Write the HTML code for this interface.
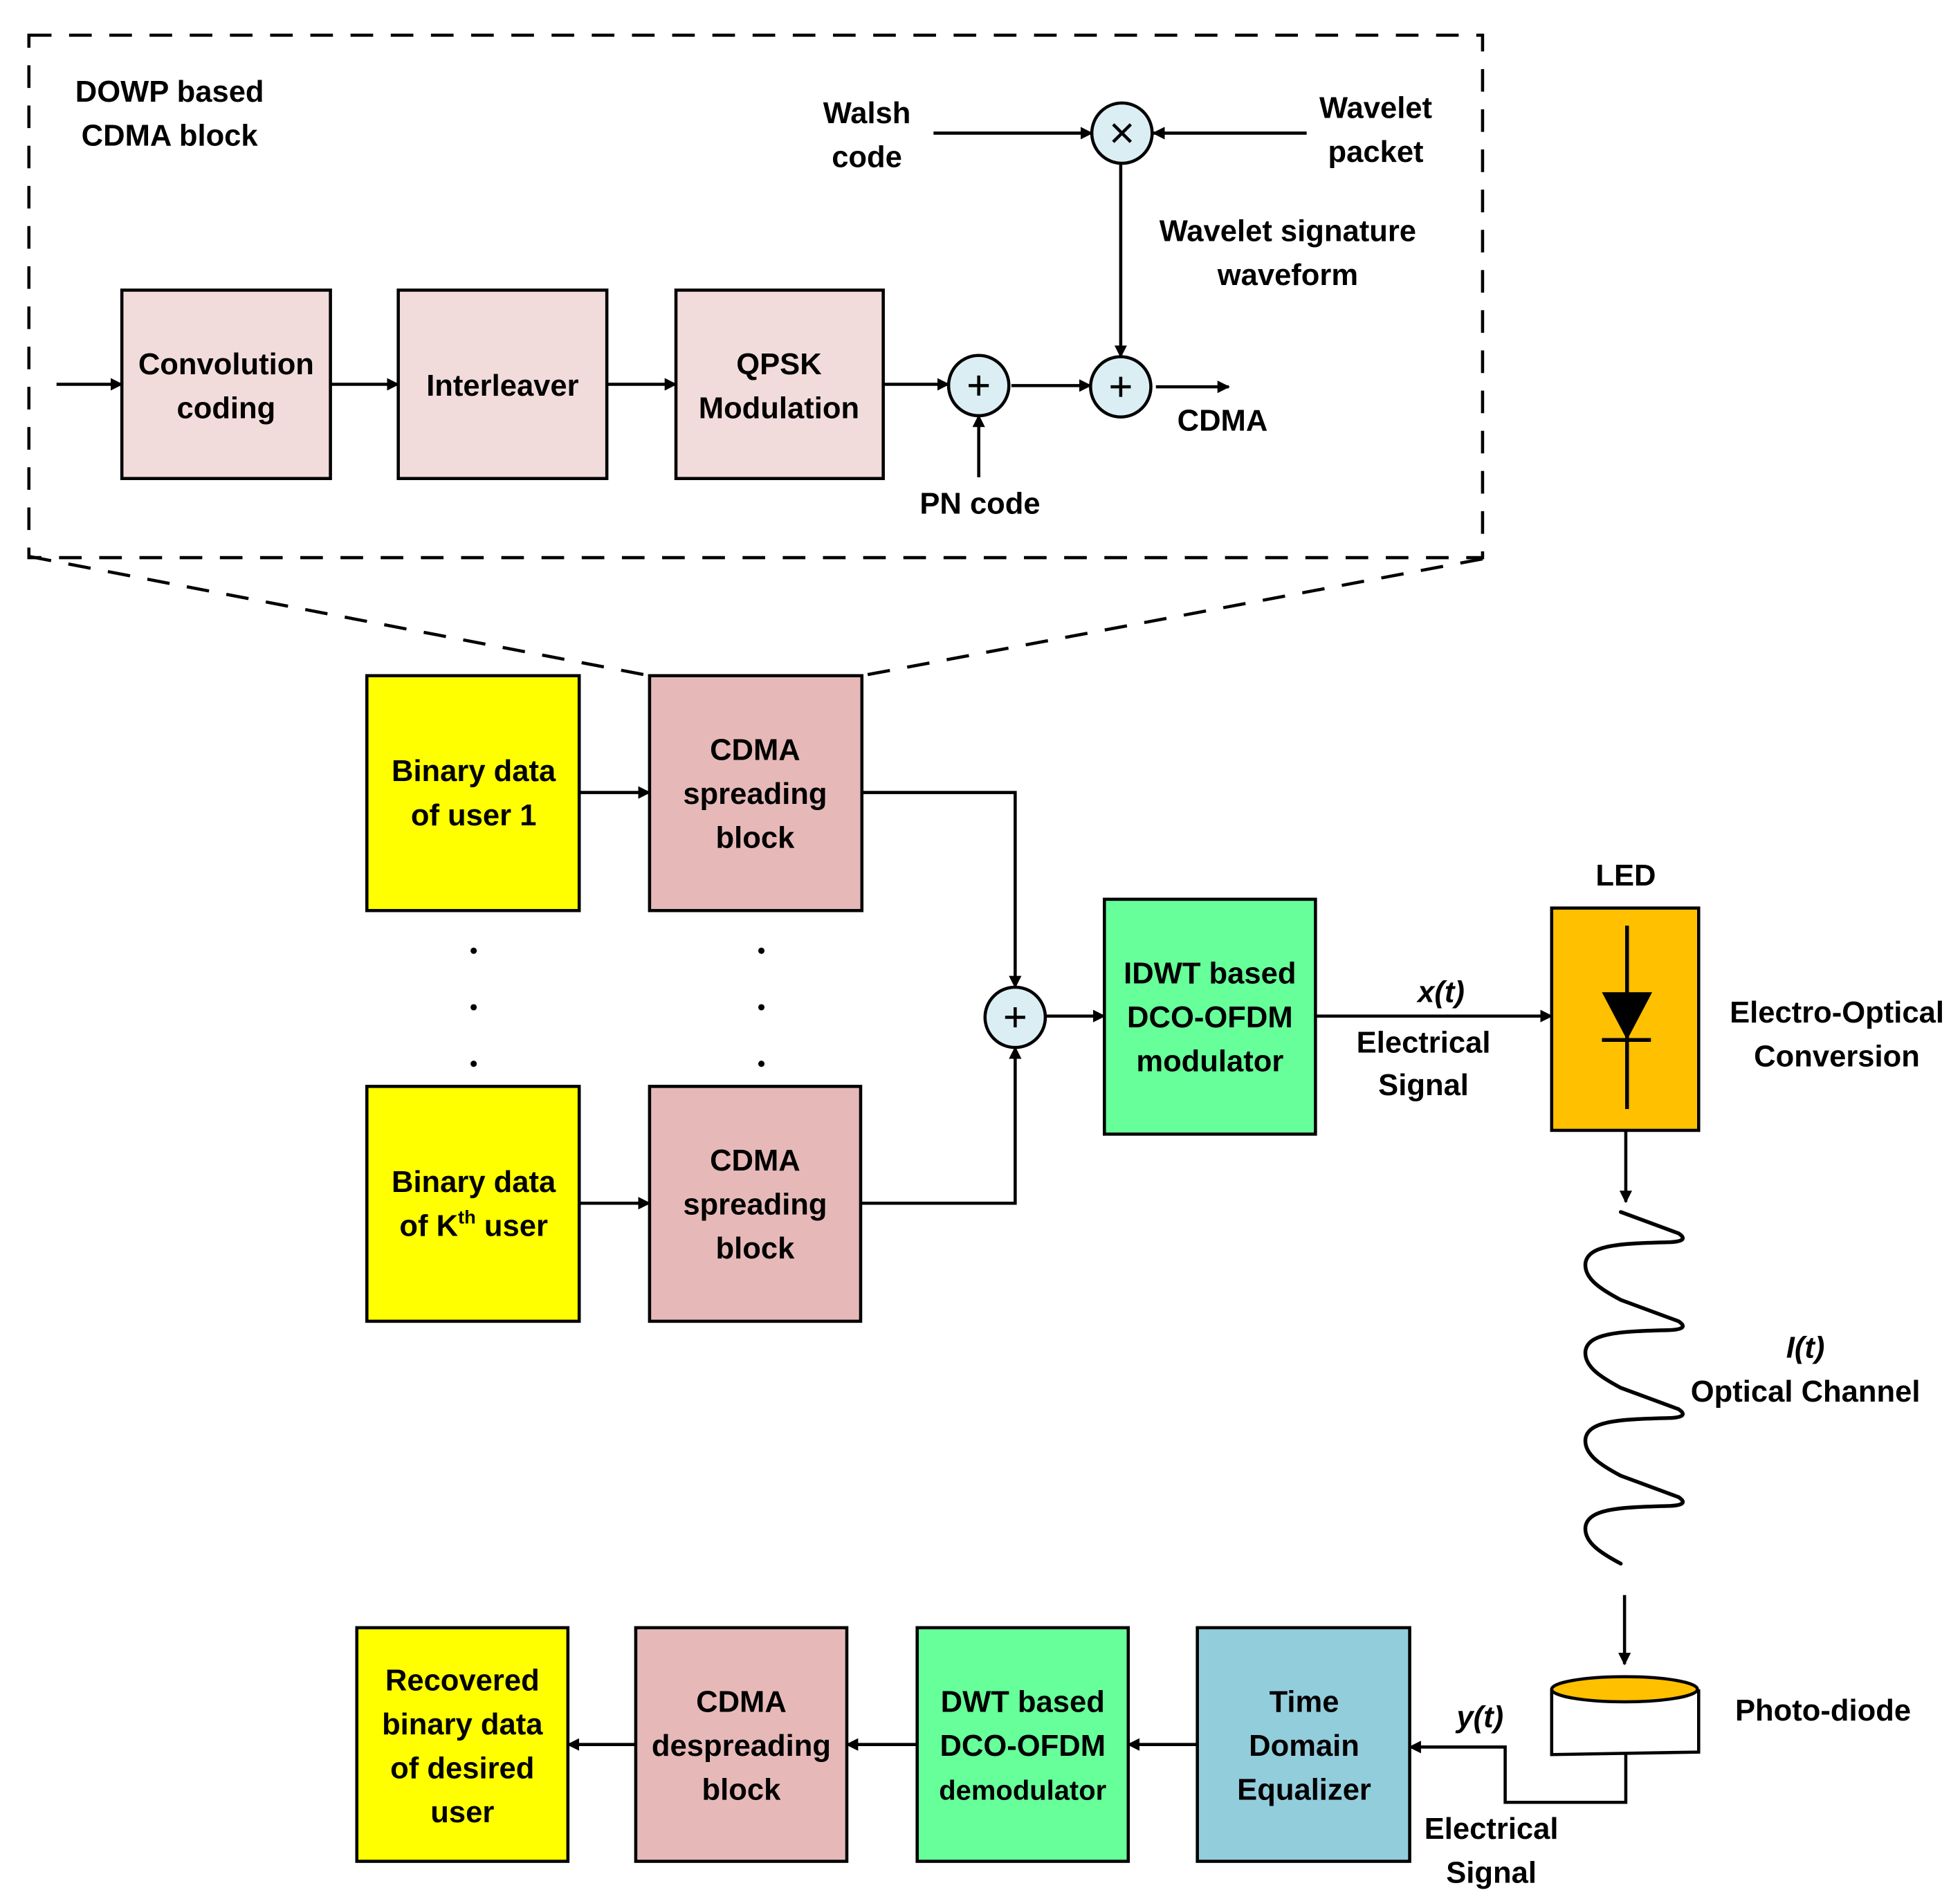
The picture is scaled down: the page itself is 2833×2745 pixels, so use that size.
<!DOCTYPE html>
<html><head><meta charset="utf-8"><style>html,body{margin:0;padding:0;background:#fff}svg{display:block}</style></head>
<body>
<svg width="2833" height="2745" viewBox="0 0 1560 1512" preserveAspectRatio="none" xmlns="http://www.w3.org/2000/svg">
<defs>
<marker id="a" markerWidth="10" markerHeight="10" refX="9" refY="5" orient="auto" markerUnits="userSpaceOnUse"><path d="M0,0 L10,5 L0,10 z" fill="#000"/></marker>
<marker id="b" markerWidth="14" markerHeight="14" refX="13" refY="7" orient="auto" markerUnits="userSpaceOnUse"><path d="M0,0 L14,7 L0,14 z" fill="#000"/></marker>
</defs>
<g font-family="'Liberation Sans',sans-serif" font-weight="bold" font-size="24" text-anchor="middle" fill="#000">
<!-- dashed box -->
<g stroke="#000" stroke-width="2.5" fill="none" stroke-dasharray="18,14">
<rect x="23" y="28" width="1157" height="416"/>
<line x1="23" y1="443" x2="517" y2="538"/>
<line x1="1180" y1="445" x2="686" y2="538"/>
</g>
<text x="135" y="81">DOWP based</text>
<text x="135" y="116">CDMA block</text>
<g stroke="#000" stroke-width="2.5" fill="#f2dcdb">
<rect x="97" y="231" width="166" height="150"/>
<rect x="317" y="231" width="166" height="150"/>
<rect x="538" y="231" width="165" height="150"/>
</g>
<text x="180" y="298">Convolution</text><text x="180" y="333">coding</text>
<text x="400" y="315">Interleaver</text>
<text x="620" y="298">QPSK</text><text x="620" y="333">Modulation</text>
<g stroke="#000" stroke-width="2.5" fill="none" marker-end="url(#a)">
<line x1="45" y1="306" x2="97" y2="306"/>
<line x1="263" y1="306" x2="317" y2="306"/>
<line x1="483" y1="306" x2="538" y2="306"/>
<line x1="703" y1="306" x2="755" y2="306"/>
<line x1="805" y1="307" x2="868" y2="307"/>
<line x1="779" y1="380" x2="779" y2="331"/>
<line x1="743" y1="106" x2="869" y2="106"/>
<line x1="1040" y1="106" x2="918" y2="106"/>
<line x1="892" y1="130" x2="892" y2="284"/>
<line x1="920" y1="308" x2="978" y2="308"/>
</g>
<g stroke="#000" stroke-width="2.5" fill="#dbeef4">
<circle cx="779" cy="307" r="24"/>
<circle cx="892" cy="308" r="24"/>
<circle cx="893" cy="106" r="24"/>
</g>
<g stroke="#000" stroke-width="2.5">
<line x1="771" y1="307" x2="787" y2="307"/><line x1="779" y1="299" x2="779" y2="315"/>
<line x1="884" y1="308" x2="900" y2="308"/><line x1="892" y1="300" x2="892" y2="316"/>
<line x1="886" y1="99" x2="900" y2="113"/><line x1="900" y1="99" x2="886" y2="113"/>
</g>
<text x="690" y="98">Walsh</text><text x="690" y="133">code</text>
<text x="1095" y="94">Wavelet</text><text x="1095" y="129">packet</text>
<text x="1025" y="192">Wavelet signature</text><text x="1025" y="227">waveform</text>
<text x="973" y="343">CDMA</text>
<text x="780" y="409">PN code</text>
<!-- middle -->
<g stroke="#000" stroke-width="2.5">
<rect x="292" y="538" width="169" height="187" fill="#ffff00"/>
<rect x="517" y="538" width="169" height="187" fill="#e6b9b8"/>
<rect x="292" y="865" width="169" height="187" fill="#ffff00"/>
<rect x="517" y="865" width="168" height="187" fill="#e6b9b8"/>
<rect x="879" y="716" width="168" height="187" fill="#66ff99"/>
<rect x="1235" y="723" width="117" height="177" fill="#ffc000"/>
<rect x="953" y="1296" width="169" height="186" fill="#92cddc"/>
<rect x="730" y="1296" width="168" height="186" fill="#66ff99"/>
<rect x="506" y="1296" width="168" height="186" fill="#e6b9b8"/>
<rect x="284" y="1296" width="168" height="186" fill="#ffff00"/>
</g>
<g fill="#000"><circle cx="377" cy="757" r="2.5"/><circle cx="377" cy="802" r="2.5"/><circle cx="377" cy="847" r="2.5"/>
<circle cx="606" cy="757" r="2.5"/><circle cx="606" cy="802" r="2.5"/><circle cx="606" cy="847" r="2.5"/></g>
<text x="377" y="622">Binary data</text><text x="377" y="657">of user 1</text>
<text x="377" y="949">Binary data</text><text x="377" y="984">of K<tspan font-size="15" dy="-10">th</tspan><tspan dy="10"> user</tspan></text>
<text x="601" y="605">CDMA</text><text x="601" y="640">spreading</text><text x="601" y="675">block</text>
<text x="601" y="932">CDMA</text><text x="601" y="967">spreading</text><text x="601" y="1002">block</text>
<text x="963" y="783">IDWT based</text><text x="963" y="818">DCO-OFDM</text><text x="963" y="853">modulator</text>
<g stroke="#000" stroke-width="2.5" fill="none" marker-end="url(#a)">
<line x1="461" y1="631" x2="517" y2="631"/>
<line x1="461" y1="958" x2="517" y2="958"/>
<polyline points="686,631 808,631 808,786"/>
<polyline points="686,958 808,958 808,834"/>
<line x1="832" y1="809" x2="879" y2="809"/>
<line x1="1047" y1="809" x2="1235" y2="809"/>
<line x1="1294" y1="900" x2="1294" y2="957"/>
<line x1="1293" y1="1270" x2="1293" y2="1325"/>
<polyline points="1294,1397 1294,1435 1198,1435 1198,1391 1122,1391"/>
<line x1="953" y1="1389" x2="898" y2="1389"/>
<line x1="730" y1="1389" x2="674" y2="1389"/>
<line x1="506" y1="1389" x2="452" y2="1389"/>
</g>
<circle cx="808" cy="810" r="24" fill="#dbeef4" stroke="#000" stroke-width="2.5"/>
<g stroke="#000" stroke-width="2.5"><line x1="800" y1="810" x2="816" y2="810"/><line x1="808" y1="802" x2="808" y2="818"/></g>
<text x="1147" y="798" font-style="italic">x(t)</text>
<text x="1133" y="838">Electrical</text><text x="1133" y="872">Signal</text>
<text x="1294" y="705">LED</text>
<g stroke="#000" stroke-width="3"><line x1="1295" y1="737" x2="1295" y2="883"/><line x1="1275" y1="828" x2="1314" y2="828"/></g>
<path d="M1275,790 L1315,790 L1295,828 z" fill="#000"/>
<text x="1462" y="814">Electro-Optical</text><text x="1462" y="849">Conversion</text>
<path d="M1290,965 l46,17 q9,6 -6,7 c-40,1 -65,2 -68,16 c-2,13 13,22 28,30 l46,17 q9,6 -6,7 c-40,1 -65,2 -68,16 c-2,13 13,22 28,30 l46,17 q9,6 -6,7 c-40,1 -65,2 -68,16 c-2,13 13,22 28,30 l46,17 q9,6 -6,7 c-40,1 -65,2 -68,16 c-2,13 13,22 28,30" fill="none" stroke="#000" stroke-width="3" stroke-linecap="round"/>
<text x="1437" y="1081" font-style="italic">I(t)</text>
<text x="1437" y="1116">Optical Channel</text>
<!-- photodiode -->
<path d="M1235,1345 L1235,1397 L1352,1395 L1352,1345" fill="#fff" stroke="#000" stroke-width="2.5"/>
<ellipse cx="1293" cy="1345" rx="58" ry="10" fill="#ffc000" stroke="#000" stroke-width="2.5"/>
<text x="1451" y="1370">Photo-diode</text>
<text x="1178" y="1375" font-style="italic">y(t)</text>
<text x="1187" y="1464">Electrical</text><text x="1187" y="1499">Signal</text>
<text x="1038" y="1363">Time</text><text x="1038" y="1398">Domain</text><text x="1038" y="1433">Equalizer</text>
<text x="814" y="1363">DWT based</text><text x="814" y="1398">DCO-OFDM</text><text x="814" y="1433" font-size="22">demodulator</text>
<text x="590" y="1363">CDMA</text><text x="590" y="1398">despreading</text><text x="590" y="1433">block</text>
<text x="368" y="1346">Recovered</text><text x="368" y="1381">binary data</text><text x="368" y="1416">of desired</text><text x="368" y="1451">user</text>
</g>
</svg>
</body></html>
